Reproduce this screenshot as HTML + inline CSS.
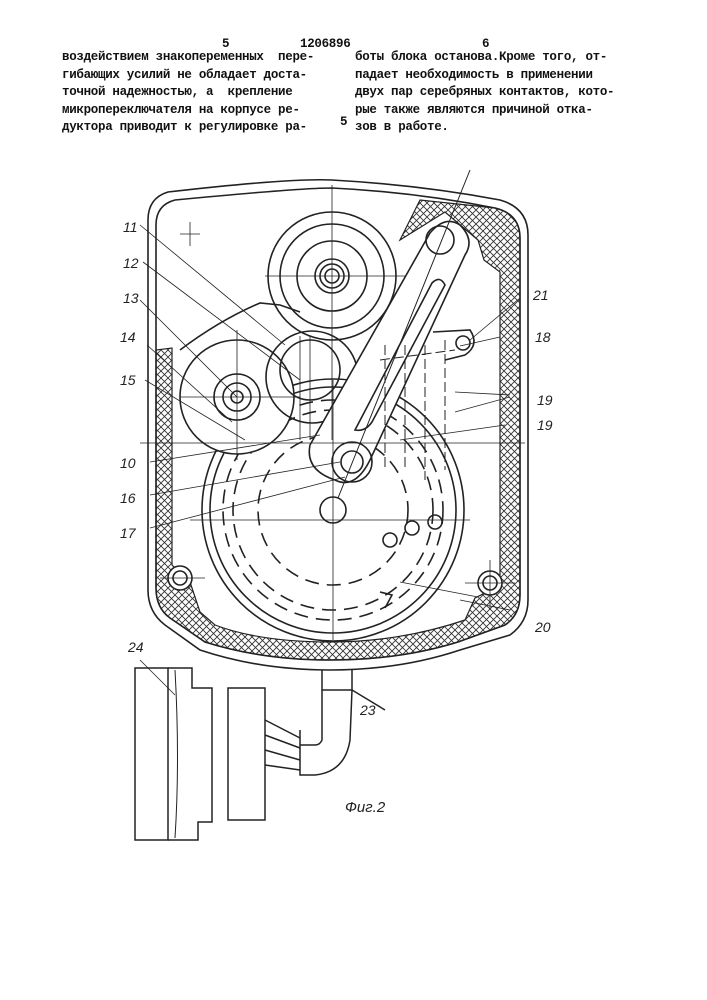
<!DOCTYPE html>
<html><head><meta charset="utf-8"><style>
body{margin:0;background:#fff;width:707px;height:1000px;overflow:hidden;position:relative;font-family:"Liberation Mono",monospace;color:#111}
.t{position:absolute;font-size:12.5px;line-height:17.5px;white-space:pre;letter-spacing:-0.3px;font-weight:bold}
svg{position:absolute;left:0;top:0}
</style></head><body>
<div class="t" style="left:222px;top:36px">5</div>
<div class="t" style="left:300px;top:36px">1206896</div>
<div class="t" style="left:482px;top:36px">6</div>
<div class="t" style="left:62px;top:49px">воздействием знакопеременных  пере-
гибающих усилий не обладает доста-
точной надежностью, а  крепление
микропереключателя на корпусе ре-
дуктора приводит к регулировке ра-</div>
<div class="t" style="left:355px;top:49px">боты блока останова.Кроме того, от-
падает необходимость в применении
двух пар серебряных контактов, кото-
рые также являются причиной отка-
зов в работе.</div>
<div class="t" style="left:340px;top:114px">5</div>
<svg width="707" height="1000" viewBox="0 0 707 1000">
<defs><pattern id="h" width="7" height="7" patternUnits="userSpaceOnUse"><path d="M0 0L7 7M7 0L0 7" stroke="#333" stroke-width="0.9"/></pattern></defs>
<g fill="none" stroke="#222" stroke-width="1.6">
<path d="M168 192 Q290 178 332 180 Q420 185 500 200 Q528 208 528 235 L528 600 Q528 622 510 635 L460 650 Q400 670 330 670 Q260 670 200 650 L165 625 Q148 612 148 590 L148 220 Q148 198 168 192Z"/>
<path d="M175 200 Q300 188 332 188 Q415 192 495 208 Q520 214 520 238 L520 595 Q520 615 505 625 L458 642 Q400 660 330 660 Q262 660 205 642 L170 618 Q156 608 156 588 L156 225 Q156 205 175 200Z"/>
<path d="M156 350 L156 588 Q156 608 170 618 L205 642 Q262 660 330 660 Q400 660 458 642 L505 625 Q520 615 520 595 L520 238 Q520 214 495 208 L420 200 L400 240 L445 212 L478 240 L484 260 L500 272 L500 575 L495 588 L475 598 L465 620 Q400 642 330 642 Q260 642 215 625 L200 612 L190 582 L172 565 L172 348Z" fill="url(#h)" stroke-width="1.2"/>
<circle cx="333" cy="510" r="131" fill="#fff"/><circle cx="333" cy="510" r="123"/>
<circle cx="333" cy="510" r="100" stroke-dasharray="14 8"/><circle cx="333" cy="510" r="75" stroke-dasharray="14 8"/>
<circle cx="333" cy="510" r="110" stroke-dasharray="14 8"/>
<circle cx="333" cy="510" r="13"/>
<circle cx="332" cy="276" r="64"/><circle cx="332" cy="276" r="52"/><circle cx="332" cy="276" r="35"/>
<circle cx="332" cy="276" r="17"/><circle cx="332" cy="276" r="12"/><circle cx="332" cy="276" r="7"/>
<circle cx="237" cy="397" r="57" fill="#fff"/><circle cx="237" cy="397" r="23"/><circle cx="237" cy="397" r="14"/><circle cx="237" cy="397" r="6"/>
<circle cx="312" cy="377" r="46"/><circle cx="310" cy="370" r="30"/>
<path d="M180 350 Q220 320 260 303 L280 305 L300 312"/>
<path d="M310 445 L430 233 Q445 215 460 225 Q475 240 465 255 L370 460 Q355 490 335 480 Q305 470 310 445Z" fill="#fff"/>
<circle cx="440" cy="240" r="14"/><circle cx="352" cy="462" r="20"/><circle cx="352" cy="462" r="11"/>
<path d="M355 430 L432 283 Q440 275 445 285 L372 422 Q365 432 355 430Z"/>
<path d="M433 332 L470 330 Q480 345 465 355 L445 360"/><circle cx="463" cy="343" r="7"/>
<path d="M385 345 L385 470 M405 345 L405 470 M425 345 L425 480 M445 340 L445 470 M380 360 L455 350" stroke-dasharray="10 4" stroke-width="1"/>
<circle cx="390" cy="540" r="7"/><circle cx="412" cy="528" r="7"/><circle cx="435" cy="522" r="7"/>
<circle cx="180" cy="578" r="12" fill="#fff"/><circle cx="180" cy="578" r="7"/>
<circle cx="490" cy="583" r="12" fill="#fff"/><circle cx="490" cy="583" r="7"/>
<path d="M380 592 L392 595 L385 608"/>
<path d="M470 170 L338 498" stroke-width="1"/>
</g>
<g stroke="#222" stroke-width="0.8" fill="none">
<path d="M332 185 L332 440 M140 443 L525 443 M265 276 L405 276 M180 234 L200 234 M190 222 L190 246 M237 330 L237 460 M180 397 L300 397 M300 336 L300 440 M310 336 L310 440 M190 520 L470 520 M333 380 L333 640 M160 578 L205 578 M465 583 L515 583 M490 560 L490 610"/>
<path d="M140 225 L285 345 M143 262 L300 380 M140 300 L237 397 M147 345 L232 422 M145 380 L245 440 M150 462 L320 435 M150 495 L340 462 M150 528 L345 477"/>
<path d="M520 298 L470 340 M500 337 L460 346 M510 395 L455 392 M510 397 L455 412 M505 425 L400 440 M510 610 L460 600 M478 597 L400 582"/>
<path d="M140 660 L175 695"/>
</g>
<g font-family="Liberation Sans,sans-serif" font-style="italic" font-size="14" fill="#222">
<text x="123" y="232">11</text><text x="123" y="268">12</text><text x="123" y="303">13</text>
<text x="120" y="342">14</text><text x="120" y="385">15</text><text x="120" y="468">10</text>
<text x="120" y="503">16</text><text x="120" y="538">17</text>
<text x="533" y="300">21</text><text x="535" y="342">18</text><text x="537" y="405">19</text>
<text x="537" y="430">19</text><text x="535" y="632">20</text><text x="128" y="652">24</text>
<text x="360" y="715">23</text><text x="345" y="812" font-size="15">Фиг.2</text>
</g>
<g fill="none" stroke="#222" stroke-width="1.5">
<path d="M135 668 L168 668 L168 840 L135 840Z"/>
<path d="M168 668 L192 668 L192 688 L212 688 L212 822 L198 822 L198 840 L168 840"/>
<path d="M175 670 Q180 760 175 838" stroke-width="1"/>
<path d="M228 688 L265 688 L265 820 L228 820Z"/>
<path d="M265 720 L300 738 M265 735 L300 748 M265 750 L300 760 M265 765 L300 770"/>
<path d="M300 730 L300 775 L315 775 Q345 772 350 740 L352 690 L322 690 L322 740 Q320 745 315 745 L300 745"/>
<path d="M322 670 L322 690 M352 670 L352 690 L385 710"/>
</g>
</svg>
</body></html>
